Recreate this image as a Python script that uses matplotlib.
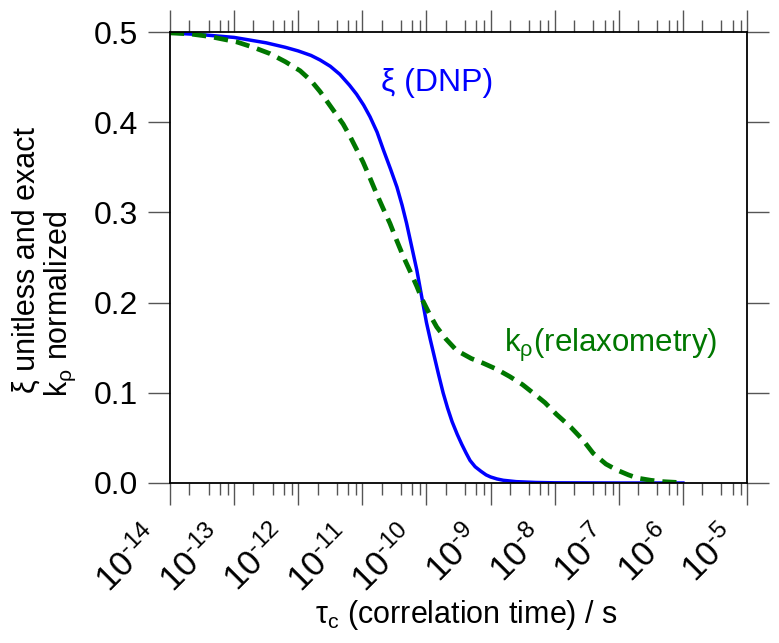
import numpy as np
import matplotlib
matplotlib.use("Agg")
import matplotlib.pyplot as plt
import matplotlib.transforms as mtransforms
from matplotlib.ticker import LogLocator, NullFormatter, FixedLocator, FixedFormatter

plt.rcParams['font.family'] = ['Liberation Sans', 'DejaVu Sans']
plt.rcParams['mathtext.fontset'] = 'custom'
plt.rcParams['mathtext.rm'] = 'Liberation Sans'
plt.rcParams['mathtext.it'] = 'Liberation Sans'
plt.rcParams['mathtext.default'] = 'regular'

# xi (DNP) curve: log10(tau_c) and value
xi_logtau = [-14.0, -13.5, -13.0, -12.5, -12.2, -12.0, -11.8, -11.66, -11.5, -11.35,
             -11.2, -11.09, -10.98, -10.88, -10.77, -10.67, -10.56, -10.46, -10.38, -10.31,
             -10.23, -10.15, -10.07, -10.0, -9.94, -9.88, -9.81, -9.74, -9.67, -9.6,
             -9.52, -9.45, -9.38, -9.32, -9.24, -9.15, -9.07, -9.0, -8.9, -8.8,
             -8.6, -8.3, -8.0, -7.0, -6.0]
xi_val = [0.499, 0.497, 0.494, 0.488, 0.483, 0.479, 0.474, 0.469, 0.462, 0.453,
          0.441, 0.431, 0.419, 0.406, 0.389, 0.369, 0.348, 0.328, 0.308, 0.288,
          0.262, 0.236, 0.205, 0.178, 0.159, 0.141, 0.120, 0.100, 0.083, 0.068,
          0.054, 0.043, 0.033, 0.025, 0.018, 0.013, 0.009, 0.0067, 0.0045, 0.003,
          0.0015, 0.0006, 0.0002, 0.0, 0.0]

# k_rho (relaxometry) curve
krho_logtau = [-14.0, -13.7, -13.38, -12.96, -12.7, -12.44, -12.2, -11.97, -11.8, -11.66,
               -11.46, -11.3, -11.19, -11.09, -10.99, -10.88, -10.78, -10.68, -10.57, -10.47,
               -10.36, -10.25, -10.15, -10.07, -9.95, -9.84, -9.7, -9.53, -9.3, -9.12,
               -8.9, -8.7, -8.5, -8.34, -8.15, -7.97, -7.75, -7.56, -7.4, -7.2,
               -7.03, -6.85, -6.71, -6.5, -6.31, -6.0]
krho_val = [0.499, 0.498, 0.495, 0.489, 0.483, 0.476, 0.467, 0.457, 0.446, 0.434,
            0.414, 0.398, 0.384, 0.370, 0.356, 0.338, 0.321, 0.305, 0.288, 0.270,
            0.251, 0.234, 0.218, 0.204, 0.187, 0.173, 0.160, 0.147, 0.138, 0.133,
            0.126, 0.118, 0.109, 0.100, 0.089, 0.076, 0.062, 0.0477, 0.033, 0.021,
            0.0144, 0.009, 0.0055, 0.003, 0.0015, 0.0003]

x_exponents = [-14, -13, -12, -11, -10, -9, -8, -7, -6, -5]
y_ticks = [0.0, 0.1, 0.2, 0.3, 0.4, 0.5]

fig = plt.figure(figsize=(7.79, 6.43), dpi=100)
ax = fig.add_axes([170/779, 1-483/643, (747-170)/779, (483-32)/643])

ax.plot(10.0**np.array(xi_logtau), xi_val, color='#0000ff', lw=2.5)
ax.plot(10.0**np.array(krho_logtau), krho_val, color='#007700', lw=3.4,
        ls=(0, (3.0, 1.7)))

ax.set_xscale('log')
ax.set_xlim(1e-14, 1e-5)
ax.set_ylim(0, 0.5)

ax.xaxis.set_major_locator(FixedLocator([10.0**e for e in x_exponents]))
ax.xaxis.set_major_formatter(FixedFormatter(['$10^{\u2010%d}$' % -e for e in x_exponents]))
ax.xaxis.set_minor_locator(LogLocator(base=10, subs=[2, 4, 6, 8], numticks=50))
ax.xaxis.set_minor_formatter(NullFormatter())
ax.set_yticks(y_ticks)
ax.set_yticklabels(['%.1f' % v for v in y_ticks])

ax.tick_params(which='major', direction='out', length=16, width=1.0, color='#555555',
               top=True, right=True, labelsize=23, pad=7)
ax.tick_params(which='minor', direction='out', length=8.5, width=1.0, color='#555555',
               top=True, bottom=True)
ax.tick_params(axis='y', which='minor', left=False, right=False)
ax.tick_params(axis='x', pad=11)
shift = mtransforms.ScaledTranslation(-27/100, 0, fig.dpi_scale_trans)
for lab in ax.get_xticklabels():
    lab.set_rotation(45)
    lab.set_ha('right')
    lab.set_va('top')
    lab.set_rotation_mode('anchor')
    lab.set_fontsize(25)
    lab.set_transform(lab.get_transform() + shift)

for sp in ax.spines.values():
    sp.set_linewidth(1.3)
    sp.set_color('black')

ax.text(1.46e-10, 0.4435, 'ξ (DNP)', color='#0000ff', fontsize=23, ha='center', va='center')
ax.text(7.6e-8, 0.153, 'k$_ρ$(relaxometry)', color='#007700', fontsize=22.5, ha='center', va='center')

fig.text(466/779, 1-623/643, 'τ$_c$ (correlation time) / s', fontsize=22, ha='center', va='baseline')
fig.text(35/779, 1-393/643, 'ξ unitless and exact', fontsize=22, rotation=90,
         rotation_mode='anchor', ha='left', va='baseline')
fig.text(67/779, 1-397/643, 'k$_ρ$ normalized', fontsize=22, rotation=90,
         rotation_mode='anchor', ha='left', va='baseline')

fig.savefig('out.png', dpi=100)
